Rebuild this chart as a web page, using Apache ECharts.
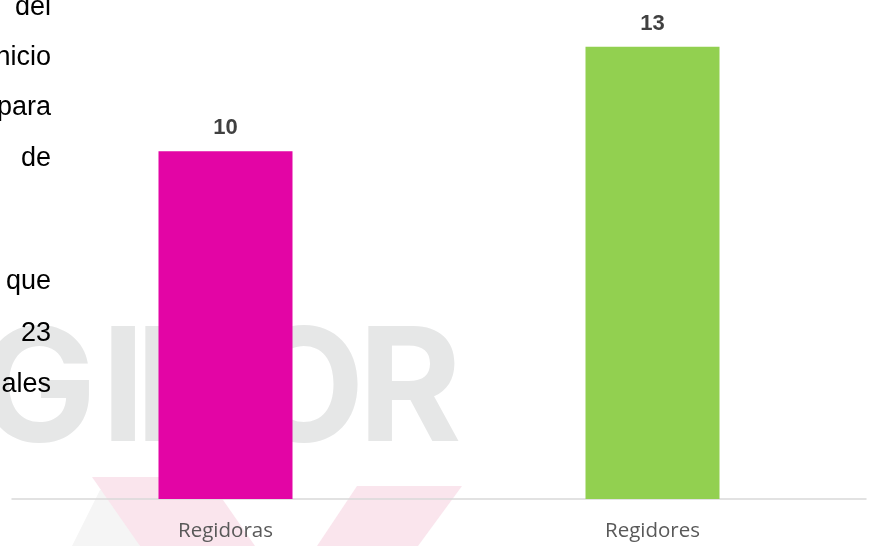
<!DOCTYPE html>
<html>
<head>
<meta charset="utf-8">
<script src="https://cdn.jsdelivr.net/npm/echarts@6/dist/echarts.min.js"></script>
<style>
  html, body { margin: 0; padding: 0; background: #fff; }
  #main { width: 877px; height: 546px; }
</style>
</head>
<body>
<div id="main"></div>
<script>
var categories = ['Regidoras', 'Regidores'];
var values = [10, 13];
var barColors = ['#e305a5', '#92d050'];
// cut-off words of the page text to the left of the chart
var sideWords = ['del', 'nicio', 'para', 'de', 'que', '23', 'ales'];
var sideBaselines = [17, 67, 117, 168, 291, 343, 394];
// watermark letters and their left edges
var markLetters = ['G', 'I', 'D', 'O', 'R'];
var markLeft = [-22, 101, 135, 243, 358];

var myChart = echarts.init(document.getElementById('main'));

var graphics = [
    // faint logo pieces behind the chart
    {
        type: 'polygon', z: 0, silent: true,
        shape: { points: [[72, 546], [100, 490], [112, 490], [140, 546]] },
        style: { fill: '#f5f5f5' }
    },
    {
        type: 'polygon', z: 0, silent: true,
        shape: { points: [[92, 477], [207, 477], [255, 546], [140, 546]] },
        style: { fill: '#fae5ed' }
    },
    {
        type: 'polygon', z: 0, silent: true,
        shape: { points: [[357, 486], [462, 486], [418, 546], [317, 546]] },
        style: { fill: '#fae5ed' }
    }
];
markLetters.forEach(function (ch, i) {
    graphics.push({
        type: 'text', z: 0, silent: true,
        x: markLeft[i], y: 393,
        style: {
            text: ch,
            fill: '#e6e7e7',
            font: 'bold 158px Inter',
            align: 'left',
            verticalAlign: 'middle'
        }
    });
});
sideWords.forEach(function (w, i) {
    graphics.push({
        type: 'text', z: 1, silent: true,
        x: 51, y: sideBaselines[i] - 9,
        style: {
            text: w,
            fill: '#000',
            font: '27px "Liberation Sans"',
            align: 'right',
            verticalAlign: 'middle'
        }
    });
});

option = {
    animation: false,
    backgroundColor: '#fff',
    grid: { left: 12, right: 11, top: 12, bottom: 47 },
    xAxis: {
        type: 'category',
        data: categories,
        z: 5,
        axisLine: { lineStyle: { color: '#d9d9d9', width: 1.5 } },
        axisTick: { show: false },
        axisLabel: {
            margin: 22,
            color: '#595959',
            fontSize: 20.5,
            fontFamily: 'Open Sans'
        }
    },
    yAxis: {
        type: 'value',
        min: 0,
        max: 14,
        show: false,
        splitLine: { show: false }
    },
    graphic: graphics,
    series: [{
        type: 'bar',
        z: 10,
        barWidth: 134,
        data: values.map(function (v, i) {
            return { value: v, itemStyle: { color: barColors[i] } };
        }),
        label: {
            show: true,
            position: 'top',
            distance: 12,
            color: '#404040',
            fontSize: 22,
            fontWeight: 'bold',
            fontFamily: 'Liberation Sans'
        }
    }]
};

myChart.setOption(option);
</script>
</body>
</html>
